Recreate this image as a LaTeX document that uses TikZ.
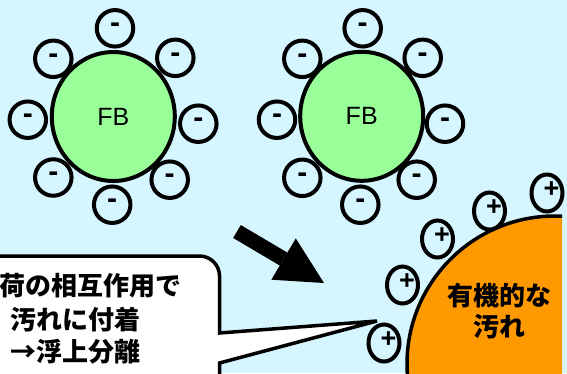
\documentclass[tikz,border=0pt]{standalone}
\usepackage{fontspec}
\setmainfont{Liberation Sans}
\newfontfamily\jpfont{Noto Sans CJK JP}
\usetikzlibrary{shapes.geometric,arrows.meta}
\definecolor{skybg}{RGB}{213,245,255}
\definecolor{fbgreen}{RGB}{153,255,153}
\definecolor{dirtorange}{RGB}{255,153,0}

\begin{document}
\begin{tikzpicture}[x=1pt,y=-1pt,
  fb/.style={draw, ellipse, line width=4pt, fill=fbgreen, minimum width=123pt, minimum height=129pt, inner sep=0pt, font=\fontsize{25}{25}\selectfont},
  sign/.style={inner sep=0pt, font=\fontsize{30}{30}\selectfont\bfseries},
  minusion/.style={draw, circle, line width=4pt, minimum size=36.5pt, inner sep=0pt, label={[sign, yshift=0.5pt]center:-}},
  plusion/.style={draw, ellipse, line width=4pt, minimum width=31pt, minimum height=37pt, inner sep=0pt, label={[sign, font=\fontsize{27}{27}\selectfont\bfseries, xshift=4.5pt, yshift=3.5pt]center:+}},
  dirt/.style={draw, circle, line width=3.5pt, fill=dirtorange, minimum size=296pt, inner sep=0pt},
  jptext/.style={inner sep=0pt, font=\jpfont\bfseries\fontsize{26}{31}\selectfont},
  callout/.style={draw, fill=white, line width=3.5pt},
  bigarrow/.style={line width=15pt, -{Triangle[length=47pt, width=48pt, line width=0pt]}},
]
% Background and frame
\fill[skybg] (0,0) rectangle (567,373);
\useasboundingbox (0,0) rectangle (567,373);
\clip (0,0) rectangle (567,373);

% Organic dirt, cut at the right edge
\begin{scope}
\clip (0,0) rectangle (562,373);
\node[dirt] (dirt) at (555,364) {};
\end{scope}
\node[jptext, align=center] (dirtlabel) at (499,311) {有機的な\\汚れ};

% Positive ions on the dirt
\node[plusion] (p1) at (384,343) {};
\node[plusion] (p2) at (402.5,285) {};
\node[plusion] (p3) at (437.5,239) {};
\node[plusion] (p4) at (489.5,211) {};
\node[plusion] (p5) at (547,193) {};

% Left fine bubble with negative ions
\node[fb] (fbL) at (113.3,116.5) {FB};
\node[minusion] (mL1) at (115,28.3) {};
\node[minusion] (mL2) at (175.3,57.8) {};
\node[minusion] (mL3) at (198.3,123.7) {};
\node[minusion] (mL4) at (169.7,179.7) {};
\node[minusion] (mL5) at (112.2,204.7) {};
\node[minusion] (mL6) at (53.3,177.5) {};
\node[minusion] (mL7) at (27.8,119.7) {};
\node[minusion] (mL8) at (53.3,58.8) {};

% Right fine bubble with negative ions
\node[fb] (fbR) at (361.7,116.3) {FB};
\node[minusion] (mR1) at (362.7,28.3) {};
\node[minusion] (mR2) at (422.7,57.8) {};
\node[minusion] (mR3) at (445,123.7) {};
\node[minusion] (mR4) at (416.7,179.7) {};
\node[minusion] (mR5) at (360.3,204.7) {};
\node[minusion] (mR6) at (302.3,177.8) {};
\node[minusion] (mR7) at (277,119.7) {};
\node[minusion] (mR8) at (302.3,58.8) {};

% Big arrow towards the dirt
\coordinate (arrowtail) at (237,231.5);
\coordinate (arrowtip) at (324,283);
\draw[bigarrow] (arrowtail) -- (arrowtip);

% Speech bubble
\coordinate (calloutpoint) at (377,321);
\draw[callout] (-10,256) -- (199.5,256) arc[start angle=-90, end angle=0, radius=20]
  -- (219.5,333) -- (calloutpoint) -- (219.5,363) -- (219.5,390) -- (-10,390) -- cycle;
\node[jptext, anchor=east] (callout1) at (182,286) {荷の相互作用で};
\node[jptext] (callout2) at (75,320) {汚れに付着};
\node[jptext] (callout3) at (75,352) {→浮上分離};
\end{tikzpicture}
\end{document}
